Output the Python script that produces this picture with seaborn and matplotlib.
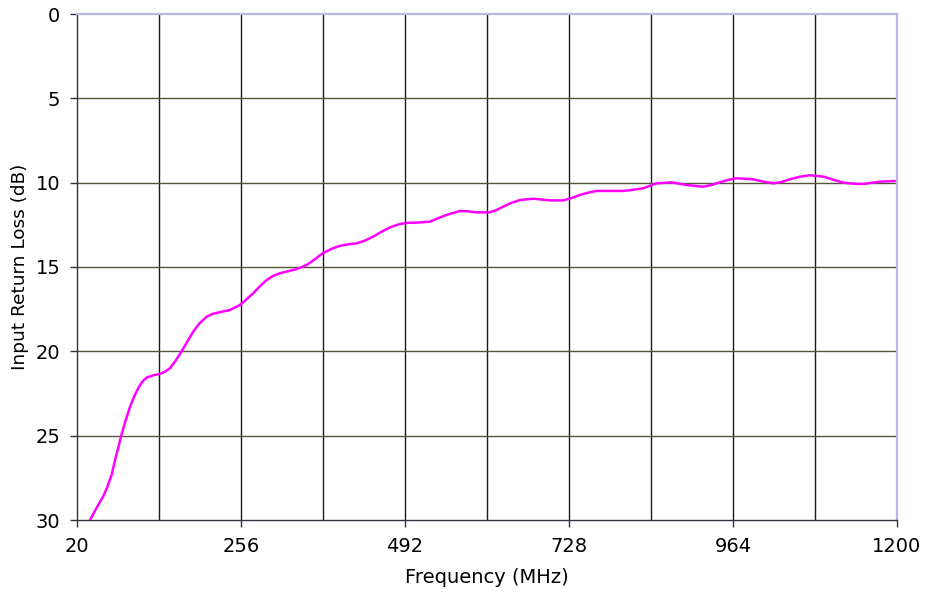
import numpy as np
import pandas as pd
import matplotlib
matplotlib.use('Agg')
import matplotlib.pyplot as plt
import seaborn as sns

# values
freq_mhz = [38.7, 44, 50, 57.8, 64, 70, 75, 80, 84.3, 90, 96.3, 102, 108, 114, 120.3, 130, 139.4, 147,
            153.8, 162, 170.6, 179, 187.4, 196, 206.6, 215, 223.3, 240, 254.5, 263, 273.7, 283,
            293, 302, 312, 324, 336, 350.5, 362, 373.5, 386, 398, 410, 422.4, 434, 446.4, 456,
            470.4, 484.7, 496, 508.8, 528, 540, 552, 571, 583, 595, 614, 624, 633.4, 645, 657.4,
            676.5, 700.6, 719.8, 731, 743.7, 755, 767.8, 791.7, 805, 815.7, 834.8, 854, 875.7,
            897.3, 921, 933, 945, 957, 969, 993, 1007, 1021.8, 1034, 1045.8, 1060, 1074.6,
            1093.8, 1108, 1122.6, 1137, 1151.4, 1175.4, 1197]
loss_db = [30.0, 29.6, 29.15, 28.6, 28.0, 27.3, 26.4, 25.6, 24.9, 24.1, 23.3, 22.7, 22.2, 21.8, 21.55, 21.42, 21.34,
           21.2, 21.0, 20.55, 20.0, 19.4, 18.83, 18.35, 17.95, 17.78, 17.7, 17.55, 17.25, 16.95, 16.55,
           16.15, 15.77, 15.53, 15.37, 15.25, 15.13, 14.88, 14.55, 14.19, 13.93, 13.75, 13.66, 13.6,
           13.44, 13.2, 12.96, 12.65, 12.45, 12.38, 12.37, 12.31, 12.1, 11.91, 11.68, 11.7, 11.76,
           11.76, 11.62, 11.42, 11.2, 11.03, 10.95, 11.05, 11.05, 10.92, 10.73, 10.6, 10.49, 10.49,
           10.49, 10.45, 10.33, 10.04, 9.98, 10.14, 10.24, 10.14, 9.98, 9.84, 9.74, 9.8, 9.93, 10.04,
           9.96, 9.8, 9.65, 9.56, 9.64, 9.82, 10.0, 10.06, 10.08, 9.94, 9.9]
x_ticks = [20, 256, 492, 728, 964, 1200]
x_minor = [138, 374, 610, 846, 1082]
y_ticks = [0, 5, 10, 15, 20, 25, 30]

df = pd.DataFrame({'Frequency (MHz)': freq_mhz, 'Input Return Loss (dB)': loss_db})

sns.set_style('ticks')
plt.rcParams['font.family'] = ['DejaVu Sans']
plt.rcParams['text.color'] = 'black'
plt.rcParams['axes.labelcolor'] = 'black'
plt.rcParams['xtick.color'] = '#333340'
plt.rcParams['ytick.color'] = '#333340'
plt.rcParams['xtick.labelcolor'] = 'black'
plt.rcParams['ytick.labelcolor'] = 'black'

fig = plt.figure(figsize=(9.26, 5.95), dpi=100)
ax = fig.add_axes([77 / 926, 1 - 520 / 595, 820 / 926, 506 / 595])

sns.lineplot(data=df, x='Frequency (MHz)', y='Input Return Loss (dB)', ax=ax,
             color='#ff00ff', linewidth=1.8, zorder=3)

ax.set_xlim(20, 1200)
ax.set_ylim(30, 0)
ax.set_xticks(x_ticks)
ax.set_xticks(x_minor, minor=True)
ax.set_yticks(y_ticks)

# gridlines: vertical black, horizontal olive
for xv in x_ticks[1:-1] + x_minor:
    ax.axvline(xv, color='#1a1a1a', linewidth=1.0, zorder=1)
for yv in y_ticks[1:-1]:
    ax.axhline(yv, color='#55553a', linewidth=1.0, zorder=1)

for side in ['left', 'bottom']:
    ax.spines[side].set_visible(True)
    ax.spines[side].set_color('#333340')
    ax.spines[side].set_linewidth(1.0)
for side in ['top', 'right']:
    ax.spines[side].set_visible(True)
    ax.spines[side].set_color('#b8b8e6')
    ax.spines[side].set_linewidth(1.6)

ax.tick_params(axis='both', which='major', direction='out', length=5, width=1.0,
               labelsize=14, pad=7, bottom=True, left=True)
ax.tick_params(axis='x', which='minor', length=0)
ax.set_xlabel('Frequency (MHz)', fontsize=14, labelpad=9)
ax.set_ylabel('Input Return Loss (dB)', fontsize=13.3, labelpad=5)

fig.savefig('out.png', dpi=100)
